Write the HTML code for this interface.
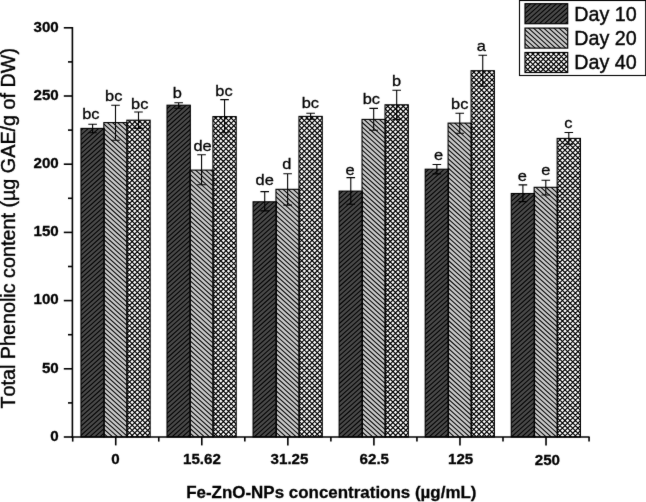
<!DOCTYPE html>
<html><head><meta charset="utf-8"><title>Total Phenolic content</title>
<style>
html,body{margin:0;padding:0;background:#fff;}
body{width:646px;height:502px;overflow:hidden;}
svg{display:block;font-family:"Liberation Sans",sans-serif;fill:#000;}
text{font-kerning:none;}
.b{font-weight:bold;}
</style></head><body>
<svg width="646" height="502" viewBox="0 0 646 502">
<defs>
<filter id="soft" x="0" y="0" width="646" height="502" filterUnits="userSpaceOnUse" color-interpolation-filters="sRGB"><feConvolveMatrix order="3" kernelMatrix="0.015 0.05 0.015 0.05 0.740 0.05 0.015 0.05 0.015" divisor="1" bias="0" edgeMode="duplicate" preserveAlpha="true"/></filter>
<clipPath id="c0"><rect x="80.95" y="128.40" width="23.30" height="308.60"/><rect x="167.01" y="105.20" width="23.30" height="331.80"/><rect x="253.07" y="201.80" width="23.30" height="235.20"/><rect x="339.13" y="191.10" width="23.30" height="245.90"/><rect x="425.19" y="169.20" width="23.30" height="267.80"/><rect x="511.25" y="193.50" width="23.30" height="243.50"/><rect x="525.00" y="3.70" width="42.70" height="20.00"/></clipPath>
<clipPath id="c1"><rect x="103.85" y="122.60" width="23.30" height="314.40"/><rect x="189.91" y="170.10" width="23.30" height="266.90"/><rect x="275.97" y="189.30" width="23.30" height="247.70"/><rect x="362.03" y="119.40" width="23.30" height="317.60"/><rect x="448.09" y="123.10" width="23.30" height="313.90"/><rect x="534.15" y="187.30" width="23.30" height="249.70"/><rect x="525.00" y="28.10" width="42.70" height="20.00"/></clipPath>
<clipPath id="c2"><rect x="126.85" y="120.20" width="23.30" height="316.80"/><rect x="212.91" y="116.60" width="23.30" height="320.40"/><rect x="298.97" y="116.40" width="23.30" height="320.60"/><rect x="385.03" y="104.80" width="23.30" height="332.20"/><rect x="471.09" y="70.70" width="23.30" height="366.30"/><rect x="557.15" y="138.40" width="23.30" height="298.60"/><rect x="525.00" y="52.50" width="42.70" height="20.00"/></clipPath>
</defs>
<g filter="url(#soft)">
<rect x="-5" y="-5" width="656" height="512" fill="#fff"/>
<rect x="519.5" y="0.5" width="126.2" height="75" fill="#fff" stroke="#000" stroke-width="1.1"/>
<g fill="#4a4a4a"><rect x="80.95" y="128.40" width="23.30" height="308.60"/><rect x="167.01" y="105.20" width="23.30" height="331.80"/><rect x="253.07" y="201.80" width="23.30" height="235.20"/><rect x="339.13" y="191.10" width="23.30" height="245.90"/><rect x="425.19" y="169.20" width="23.30" height="267.80"/><rect x="511.25" y="193.50" width="23.30" height="243.50"/><rect x="525.00" y="3.70" width="42.70" height="20.00"/></g>
<path clip-path="url(#c0)" d="M80.4 126.4L78.9 127.7M85.5 126.4L78.9 132.3M90.7 126.4L78.9 136.9M95.8 126.4L78.9 141.6M101.0 126.4L78.9 146.2M106.1 126.4L78.9 150.8M106.2 130.9L78.9 155.4M106.2 135.5L78.9 160.0M106.2 140.1L78.9 164.7M106.2 144.8L78.9 169.3M106.2 149.4L78.9 173.9M106.2 154.0L78.9 178.5M106.2 158.6L78.9 183.1M106.2 163.2L78.9 187.8M106.2 167.9L78.9 192.4M106.2 172.5L78.9 197.0M106.2 177.1L78.9 201.6M106.2 181.7L78.9 206.2M106.2 186.3L78.9 210.9M106.2 191.0L78.9 215.5M106.2 195.6L78.9 220.1M106.2 200.2L78.9 224.7M106.2 204.8L78.9 229.3M106.2 209.4L78.9 234.0M106.2 214.1L78.9 238.6M106.2 218.7L78.9 243.2M106.2 223.3L78.9 247.8M106.2 227.9L78.9 252.4M106.2 232.5L78.9 257.1M106.2 237.2L78.9 261.7M106.2 241.8L78.9 266.3M106.2 246.4L78.9 270.9M106.2 251.0L78.9 275.5M106.2 255.6L78.9 280.2M106.2 260.3L78.9 284.8M106.2 264.9L78.9 289.4M106.2 269.5L78.9 294.0M106.2 274.1L78.9 298.6M106.2 278.7L78.9 303.3M106.2 283.4L78.9 307.9M106.2 288.0L78.9 312.5M106.2 292.6L78.9 317.1M106.2 297.2L78.9 321.7M106.2 301.8L78.9 326.4M106.2 306.5L78.9 331.0M106.2 311.1L78.9 335.6M106.2 315.7L78.9 340.2M106.2 320.3L78.9 344.8M106.2 324.9L78.9 349.5M106.2 329.6L78.9 354.1M106.2 334.2L78.9 358.7M106.2 338.8L78.9 363.3M106.2 343.4L78.9 367.9M106.2 348.0L78.9 372.6M106.2 352.7L78.9 377.2M106.2 357.3L78.9 381.8M106.2 361.9L78.9 386.4M106.2 366.5L78.9 391.0M106.2 371.1L78.9 395.7M106.2 375.8L78.9 400.3M106.2 380.4L78.9 404.9M106.2 385.0L78.9 409.5M106.2 389.6L78.9 414.1M106.2 394.2L78.9 418.8M106.2 398.9L78.9 423.4M106.2 403.5L78.9 428.0M106.2 408.1L78.9 432.6M106.2 412.7L78.9 437.2M106.2 417.3L82.1 439.0M106.2 422.0L87.3 439.0M106.2 426.6L92.4 439.0M106.2 431.2L97.6 439.0M106.2 435.8L102.7 439.0M168.0 103.2L165.0 105.9M173.1 103.2L165.0 110.5M178.3 103.2L165.0 115.1M183.4 103.2L165.0 119.7M188.5 103.2L165.0 124.3M192.3 104.4L165.0 129.0M192.3 109.1L165.0 133.6M192.3 113.7L165.0 138.2M192.3 118.3L165.0 142.8M192.3 122.9L165.0 147.4M192.3 127.5L165.0 152.1M192.3 132.2L165.0 156.7M192.3 136.8L165.0 161.3M192.3 141.4L165.0 165.9M192.3 146.0L165.0 170.5M192.3 150.6L165.0 175.2M192.3 155.3L165.0 179.8M192.3 159.9L165.0 184.4M192.3 164.5L165.0 189.0M192.3 169.1L165.0 193.6M192.3 173.7L165.0 198.3M192.3 178.4L165.0 202.9M192.3 183.0L165.0 207.5M192.3 187.6L165.0 212.1M192.3 192.2L165.0 216.7M192.3 196.8L165.0 221.4M192.3 201.5L165.0 226.0M192.3 206.1L165.0 230.6M192.3 210.7L165.0 235.2M192.3 215.3L165.0 239.8M192.3 219.9L165.0 244.5M192.3 224.6L165.0 249.1M192.3 229.2L165.0 253.7M192.3 233.8L165.0 258.3M192.3 238.4L165.0 262.9M192.3 243.0L165.0 267.6M192.3 247.7L165.0 272.2M192.3 252.3L165.0 276.8M192.3 256.9L165.0 281.4M192.3 261.5L165.0 286.0M192.3 266.1L165.0 290.7M192.3 270.8L165.0 295.3M192.3 275.4L165.0 299.9M192.3 280.0L165.0 304.5M192.3 284.6L165.0 309.1M192.3 289.2L165.0 313.8M192.3 293.9L165.0 318.4M192.3 298.5L165.0 323.0M192.3 303.1L165.0 327.6M192.3 307.7L165.0 332.2M192.3 312.3L165.0 336.9M192.3 317.0L165.0 341.5M192.3 321.6L165.0 346.1M192.3 326.2L165.0 350.7M192.3 330.8L165.0 355.3M192.3 335.4L165.0 360.0M192.3 340.1L165.0 364.6M192.3 344.7L165.0 369.2M192.3 349.3L165.0 373.8M192.3 353.9L165.0 378.4M192.3 358.5L165.0 383.1M192.3 363.2L165.0 387.7M192.3 367.8L165.0 392.3M192.3 372.4L165.0 396.9M192.3 377.0L165.0 401.5M192.3 381.6L165.0 406.2M192.3 386.3L165.0 410.8M192.3 390.9L165.0 415.4M192.3 395.5L165.0 420.0M192.3 400.1L165.0 424.6M192.3 404.7L165.0 429.3M192.3 409.4L165.0 433.9M192.3 414.0L165.0 438.5M192.3 418.6L169.6 439.0M192.3 423.2L174.7 439.0M192.3 427.8L179.9 439.0M192.3 432.5L185.0 439.0M192.3 437.1L190.2 439.0M255.9 199.8L251.1 204.1M261.0 199.8L251.1 208.7M266.2 199.8L251.1 213.4M271.3 199.8L251.1 218.0M276.5 199.8L251.1 222.6M278.4 202.7L251.1 227.2M278.4 207.3L251.1 231.8M278.4 211.9L251.1 236.5M278.4 216.6L251.1 241.1M278.4 221.2L251.1 245.7M278.4 225.8L251.1 250.3M278.4 230.4L251.1 254.9M278.4 235.0L251.1 259.6M278.4 239.7L251.1 264.2M278.4 244.3L251.1 268.8M278.4 248.9L251.1 273.4M278.4 253.5L251.1 278.0M278.4 258.1L251.1 282.7M278.4 262.8L251.1 287.3M278.4 267.4L251.1 291.9M278.4 272.0L251.1 296.5M278.4 276.6L251.1 301.1M278.4 281.2L251.1 305.8M278.4 285.9L251.1 310.4M278.4 290.5L251.1 315.0M278.4 295.1L251.1 319.6M278.4 299.7L251.1 324.2M278.4 304.3L251.1 328.9M278.4 309.0L251.1 333.5M278.4 313.6L251.1 338.1M278.4 318.2L251.1 342.7M278.4 322.8L251.1 347.3M278.4 327.4L251.1 352.0M278.4 332.1L251.1 356.6M278.4 336.7L251.1 361.2M278.4 341.3L251.1 365.8M278.4 345.9L251.1 370.4M278.4 350.5L251.1 375.1M278.4 355.2L251.1 379.7M278.4 359.8L251.1 384.3M278.4 364.4L251.1 388.9M278.4 369.0L251.1 393.5M278.4 373.6L251.1 398.2M278.4 378.3L251.1 402.8M278.4 382.9L251.1 407.4M278.4 387.5L251.1 412.0M278.4 392.1L251.1 416.6M278.4 396.7L251.1 421.3M278.4 401.4L251.1 425.9M278.4 406.0L251.1 430.5M278.4 410.6L251.1 435.1M278.4 415.2L251.9 439.0M278.4 419.8L257.0 439.0M278.4 424.5L262.2 439.0M278.4 429.1L267.3 439.0M278.4 433.7L272.5 439.0M278.4 438.3L277.6 439.0M339.8 189.1L337.1 191.5M345.0 189.1L337.1 196.1M350.1 189.1L337.1 200.7M355.2 189.1L337.1 205.4M360.4 189.1L337.1 210.0M364.4 190.1L337.1 214.6M364.4 194.7L337.1 219.2M364.4 199.3L337.1 223.8M364.4 203.9L337.1 228.5M364.4 208.6L337.1 233.1M364.4 213.2L337.1 237.7M364.4 217.8L337.1 242.3M364.4 222.4L337.1 246.9M364.4 227.0L337.1 251.6M364.4 231.7L337.1 256.2M364.4 236.3L337.1 260.8M364.4 240.9L337.1 265.4M364.4 245.5L337.1 270.0M364.4 250.1L337.1 274.7M364.4 254.8L337.1 279.3M364.4 259.4L337.1 283.9M364.4 264.0L337.1 288.5M364.4 268.6L337.1 293.1M364.4 273.2L337.1 297.8M364.4 277.9L337.1 302.4M364.4 282.5L337.1 307.0M364.4 287.1L337.1 311.6M364.4 291.7L337.1 316.2M364.4 296.3L337.1 320.9M364.4 301.0L337.1 325.5M364.4 305.6L337.1 330.1M364.4 310.2L337.1 334.7M364.4 314.8L337.1 339.3M364.4 319.4L337.1 344.0M364.4 324.1L337.1 348.6M364.4 328.7L337.1 353.2M364.4 333.3L337.1 357.8M364.4 337.9L337.1 362.4M364.4 342.5L337.1 367.1M364.4 347.2L337.1 371.7M364.4 351.8L337.1 376.3M364.4 356.4L337.1 380.9M364.4 361.0L337.1 385.5M364.4 365.6L337.1 390.2M364.4 370.3L337.1 394.8M364.4 374.9L337.1 399.4M364.4 379.5L337.1 404.0M364.4 384.1L337.1 408.6M364.4 388.7L337.1 413.3M364.4 393.4L337.1 417.9M364.4 398.0L337.1 422.5M364.4 402.6L337.1 427.1M364.4 407.2L337.1 431.7M364.4 411.8L337.1 436.4M364.4 416.5L339.3 439.0M364.4 421.1L344.5 439.0M364.4 425.7L349.6 439.0M364.4 430.3L354.8 439.0M364.4 434.9L359.9 439.0M425.9 167.2L423.2 169.7M431.1 167.2L423.2 174.3M436.2 167.2L423.2 178.9M441.4 167.2L423.2 183.5M446.5 167.2L423.2 188.1M450.5 168.2L423.2 192.8M450.5 172.9L423.2 197.4M450.5 177.5L423.2 202.0M450.5 182.1L423.2 206.6M450.5 186.7L423.2 211.2M450.5 191.3L423.2 215.9M450.5 196.0L423.2 220.5M450.5 200.6L423.2 225.1M450.5 205.2L423.2 229.7M450.5 209.8L423.2 234.3M450.5 214.4L423.2 239.0M450.5 219.1L423.2 243.6M450.5 223.7L423.2 248.2M450.5 228.3L423.2 252.8M450.5 232.9L423.2 257.4M450.5 237.5L423.2 262.1M450.5 242.2L423.2 266.7M450.5 246.8L423.2 271.3M450.5 251.4L423.2 275.9M450.5 256.0L423.2 280.5M450.5 260.6L423.2 285.2M450.5 265.3L423.2 289.8M450.5 269.9L423.2 294.4M450.5 274.5L423.2 299.0M450.5 279.1L423.2 303.6M450.5 283.7L423.2 308.3M450.5 288.4L423.2 312.9M450.5 293.0L423.2 317.5M450.5 297.6L423.2 322.1M450.5 302.2L423.2 326.7M450.5 306.8L423.2 331.4M450.5 311.5L423.2 336.0M450.5 316.1L423.2 340.6M450.5 320.7L423.2 345.2M450.5 325.3L423.2 349.8M450.5 329.9L423.2 354.5M450.5 334.6L423.2 359.1M450.5 339.2L423.2 363.7M450.5 343.8L423.2 368.3M450.5 348.4L423.2 372.9M450.5 353.0L423.2 377.6M450.5 357.7L423.2 382.2M450.5 362.3L423.2 386.8M450.5 366.9L423.2 391.4M450.5 371.5L423.2 396.0M450.5 376.1L423.2 400.7M450.5 380.8L423.2 405.3M450.5 385.4L423.2 409.9M450.5 390.0L423.2 414.5M450.5 394.6L423.2 419.1M450.5 399.2L423.2 423.8M450.5 403.9L423.2 428.4M450.5 408.5L423.2 433.0M450.5 413.1L423.2 437.6M450.5 417.7L426.8 439.0M450.5 422.3L431.9 439.0M450.5 427.0L437.1 439.0M450.5 431.6L442.2 439.0M450.5 436.2L447.4 439.0M512.0 191.5L509.2 194.0M517.2 191.5L509.2 198.6M522.3 191.5L509.2 203.2M527.5 191.5L509.2 207.9M532.6 191.5L509.2 212.5M536.5 192.6L509.2 217.1M536.5 197.2L509.2 221.7M536.5 201.8L509.2 226.3M536.5 206.4L509.2 231.0M536.5 211.1L509.2 235.6M536.5 215.7L509.2 240.2M536.5 220.3L509.2 244.8M536.5 224.9L509.2 249.4M536.5 229.5L509.2 254.1M536.5 234.2L509.2 258.7M536.5 238.8L509.2 263.3M536.5 243.4L509.2 267.9M536.5 248.0L509.2 272.5M536.5 252.6L509.2 277.2M536.5 257.3L509.2 281.8M536.5 261.9L509.2 286.4M536.5 266.5L509.2 291.0M536.5 271.1L509.2 295.6M536.5 275.7L509.2 300.3M536.5 280.4L509.2 304.9M536.5 285.0L509.2 309.5M536.5 289.6L509.2 314.1M536.5 294.2L509.2 318.7M536.5 298.8L509.2 323.4M536.5 303.5L509.2 328.0M536.5 308.1L509.2 332.6M536.5 312.7L509.2 337.2M536.5 317.3L509.2 341.8M536.5 321.9L509.2 346.5M536.5 326.6L509.2 351.1M536.5 331.2L509.2 355.7M536.5 335.8L509.2 360.3M536.5 340.4L509.2 364.9M536.5 345.0L509.2 369.6M536.5 349.7L509.2 374.2M536.5 354.3L509.2 378.8M536.5 358.9L509.2 383.4M536.5 363.5L509.2 388.0M536.5 368.1L509.2 392.7M536.5 372.8L509.2 397.3M536.5 377.4L509.2 401.9M536.5 382.0L509.2 406.5M536.5 386.6L509.2 411.1M536.5 391.2L509.2 415.8M536.5 395.9L509.2 420.4M536.5 400.5L509.2 425.0M536.5 405.1L509.2 429.6M536.5 409.7L509.2 434.2M536.5 414.3L509.2 438.9M536.5 419.0L514.2 439.0M536.5 423.6L519.4 439.0M536.5 428.2L524.5 439.0M536.5 432.8L529.7 439.0M536.5 437.4L534.8 439.0M527.9 1.7L523.0 6.1M533.0 1.7L523.0 10.7M538.2 1.7L523.0 15.3M543.3 1.7L523.0 19.9M548.5 1.7L523.0 24.6M553.6 1.7L526.9 25.7M558.8 1.7L532.0 25.7M563.9 1.7L537.2 25.7M569.0 1.7L542.3 25.7M569.7 5.7L547.5 25.7M569.7 10.3L552.6 25.7M569.7 15.0L557.7 25.7M569.7 19.6L562.9 25.7M569.7 24.2L568.0 25.7" stroke="#000" stroke-width="1.05" fill="none"/>
<g fill="#cacaca"><rect x="103.85" y="122.60" width="23.30" height="314.40"/><rect x="189.91" y="170.10" width="23.30" height="266.90"/><rect x="275.97" y="189.30" width="23.30" height="247.70"/><rect x="362.03" y="119.40" width="23.30" height="317.60"/><rect x="448.09" y="123.10" width="23.30" height="313.90"/><rect x="534.15" y="187.30" width="23.30" height="249.70"/><rect x="525.00" y="28.10" width="42.70" height="20.00"/></g>
<path clip-path="url(#c1)" d="M101.8 436.4L104.8 439.0M101.8 431.7L109.9 439.0M101.8 427.1L115.0 439.0M101.8 422.5L120.1 439.0M101.8 417.9L125.2 439.0M101.8 413.3L129.1 438.0M101.8 408.6L129.1 433.4M101.8 404.0L129.1 428.8M101.8 399.4L129.1 424.1M101.8 394.8L129.1 419.5M101.8 390.2L129.1 414.9M101.8 385.5L129.1 410.3M101.8 380.9L129.1 405.7M101.8 376.3L129.1 401.0M101.8 371.7L129.1 396.4M101.8 367.1L129.1 391.8M101.8 362.4L129.1 387.2M101.8 357.8L129.1 382.6M101.8 353.2L129.1 377.9M101.8 348.6L129.1 373.3M101.8 344.0L129.1 368.7M101.8 339.3L129.1 364.1M101.8 334.7L129.1 359.5M101.8 330.1L129.1 354.8M101.8 325.5L129.1 350.2M101.8 320.9L129.1 345.6M101.8 316.2L129.1 341.0M101.8 311.6L129.1 336.4M101.8 307.0L129.1 331.7M101.8 302.4L129.1 327.1M101.8 297.8L129.1 322.5M101.8 293.1L129.1 317.9M101.8 288.5L129.1 313.3M101.8 283.9L129.1 308.6M101.8 279.3L129.1 304.0M101.8 274.7L129.1 299.4M101.8 270.0L129.1 294.8M101.8 265.4L129.1 290.2M101.8 260.8L129.1 285.5M101.8 256.2L129.1 280.9M101.8 251.6L129.1 276.3M101.8 246.9L129.1 271.7M101.8 242.3L129.1 267.1M101.8 237.7L129.1 262.4M101.8 233.1L129.1 257.8M101.8 228.5L129.1 253.2M101.8 223.8L129.1 248.6M101.8 219.2L129.1 244.0M101.8 214.6L129.1 239.3M101.8 210.0L129.1 234.7M101.8 205.4L129.1 230.1M101.8 200.7L129.1 225.5M101.8 196.1L129.1 220.9M101.8 191.5L129.1 216.2M101.8 186.9L129.1 211.6M101.8 182.3L129.1 207.0M101.8 177.6L129.1 202.4M101.8 173.0L129.1 197.8M101.8 168.4L129.1 193.1M101.8 163.8L129.1 188.5M101.8 159.2L129.1 183.9M101.8 154.5L129.1 179.3M101.8 149.9L129.1 174.7M101.8 145.3L129.1 170.0M101.8 140.7L129.1 165.4M101.8 136.1L129.1 160.8M101.8 131.4L129.1 156.2M101.8 126.8L129.1 151.6M101.8 122.2L129.1 146.9M105.2 120.6L129.1 142.3M110.3 120.6L129.1 137.7M115.4 120.6L129.1 133.1M120.5 120.6L129.1 128.5M125.6 120.6L129.1 123.8M187.9 435.8L191.5 439.0M187.9 431.2L196.6 439.0M187.9 426.5L201.7 439.0M187.9 421.9L206.8 439.0M187.9 417.3L211.9 439.0M187.9 412.7L215.2 437.4M187.9 408.1L215.2 432.8M187.9 403.4L215.2 428.2M187.9 398.8L215.2 423.6M187.9 394.2L215.2 418.9M187.9 389.6L215.2 414.3M187.9 385.0L215.2 409.7M187.9 380.3L215.2 405.1M187.9 375.7L215.2 400.5M187.9 371.1L215.2 395.8M187.9 366.5L215.2 391.2M187.9 361.9L215.2 386.6M187.9 357.2L215.2 382.0M187.9 352.6L215.2 377.4M187.9 348.0L215.2 372.7M187.9 343.4L215.2 368.1M187.9 338.8L215.2 363.5M187.9 334.1L215.2 358.9M187.9 329.5L215.2 354.3M187.9 324.9L215.2 349.6M187.9 320.3L215.2 345.0M187.9 315.7L215.2 340.4M187.9 311.0L215.2 335.8M187.9 306.4L215.2 331.2M187.9 301.8L215.2 326.5M187.9 297.2L215.2 321.9M187.9 292.6L215.2 317.3M187.9 287.9L215.2 312.7M187.9 283.3L215.2 308.1M187.9 278.7L215.2 303.4M187.9 274.1L215.2 298.8M187.9 269.5L215.2 294.2M187.9 264.8L215.2 289.6M187.9 260.2L215.2 285.0M187.9 255.6L215.2 280.3M187.9 251.0L215.2 275.7M187.9 246.4L215.2 271.1M187.9 241.7L215.2 266.5M187.9 237.1L215.2 261.9M187.9 232.5L215.2 257.2M187.9 227.9L215.2 252.6M187.9 223.3L215.2 248.0M187.9 218.6L215.2 243.4M187.9 214.0L215.2 238.8M187.9 209.4L215.2 234.1M187.9 204.8L215.2 229.5M187.9 200.2L215.2 224.9M187.9 195.5L215.2 220.3M187.9 190.9L215.2 215.7M187.9 186.3L215.2 211.0M187.9 181.7L215.2 206.4M187.9 177.1L215.2 201.8M187.9 172.4L215.2 197.2M188.2 168.1L215.2 192.6M193.3 168.1L215.2 187.9M198.4 168.1L215.2 183.3M203.5 168.1L215.2 178.7M208.6 168.1L215.2 174.1M213.7 168.1L215.2 169.5M274.0 435.2L278.2 439.0M274.0 430.6L283.3 439.0M274.0 426.0L288.4 439.0M274.0 421.3L293.5 439.0M274.0 416.7L298.6 439.0M274.0 412.1L301.3 436.8M274.0 407.5L301.3 432.2M274.0 402.9L301.3 427.6M274.0 398.2L301.3 423.0M274.0 393.6L301.3 418.4M274.0 389.0L301.3 413.7M274.0 384.4L301.3 409.1M274.0 379.8L301.3 404.5M274.0 375.1L301.3 399.9M274.0 370.5L301.3 395.3M274.0 365.9L301.3 390.6M274.0 361.3L301.3 386.0M274.0 356.7L301.3 381.4M274.0 352.0L301.3 376.8M274.0 347.4L301.3 372.2M274.0 342.8L301.3 367.5M274.0 338.2L301.3 362.9M274.0 333.6L301.3 358.3M274.0 328.9L301.3 353.7M274.0 324.3L301.3 349.1M274.0 319.7L301.3 344.4M274.0 315.1L301.3 339.8M274.0 310.5L301.3 335.2M274.0 305.8L301.3 330.6M274.0 301.2L301.3 326.0M274.0 296.6L301.3 321.3M274.0 292.0L301.3 316.7M274.0 287.4L301.3 312.1M274.0 282.7L301.3 307.5M274.0 278.1L301.3 302.9M274.0 273.5L301.3 298.2M274.0 268.9L301.3 293.6M274.0 264.3L301.3 289.0M274.0 259.6L301.3 284.4M274.0 255.0L301.3 279.8M274.0 250.4L301.3 275.1M274.0 245.8L301.3 270.5M274.0 241.2L301.3 265.9M274.0 236.5L301.3 261.3M274.0 231.9L301.3 256.7M274.0 227.3L301.3 252.0M274.0 222.7L301.3 247.4M274.0 218.1L301.3 242.8M274.0 213.4L301.3 238.2M274.0 208.8L301.3 233.6M274.0 204.2L301.3 228.9M274.0 199.6L301.3 224.3M274.0 195.0L301.3 219.7M274.0 190.3L301.3 215.1M275.7 187.3L301.3 210.5M280.8 187.3L301.3 205.8M285.9 187.3L301.3 201.2M291.0 187.3L301.3 196.6M296.1 187.3L301.3 192.0M301.2 187.3L301.3 187.4M360.0 434.6L364.9 439.0M360.0 430.0L370.0 439.0M360.0 425.4L375.1 439.0M360.0 420.8L380.2 439.0M360.0 416.1L385.3 439.0M360.0 411.5L387.3 436.3M360.0 406.9L387.3 431.6M360.0 402.3L387.3 427.0M360.0 397.7L387.3 422.4M360.0 393.0L387.3 417.8M360.0 388.4L387.3 413.2M360.0 383.8L387.3 408.5M360.0 379.2L387.3 403.9M360.0 374.6L387.3 399.3M360.0 369.9L387.3 394.7M360.0 365.3L387.3 390.1M360.0 360.7L387.3 385.4M360.0 356.1L387.3 380.8M360.0 351.5L387.3 376.2M360.0 346.8L387.3 371.6M360.0 342.2L387.3 367.0M360.0 337.6L387.3 362.3M360.0 333.0L387.3 357.7M360.0 328.4L387.3 353.1M360.0 323.7L387.3 348.5M360.0 319.1L387.3 343.9M360.0 314.5L387.3 339.2M360.0 309.9L387.3 334.6M360.0 305.3L387.3 330.0M360.0 300.6L387.3 325.4M360.0 296.0L387.3 320.8M360.0 291.4L387.3 316.1M360.0 286.8L387.3 311.5M360.0 282.2L387.3 306.9M360.0 277.5L387.3 302.3M360.0 272.9L387.3 297.7M360.0 268.3L387.3 293.0M360.0 263.7L387.3 288.4M360.0 259.1L387.3 283.8M360.0 254.4L387.3 279.2M360.0 249.8L387.3 274.6M360.0 245.2L387.3 269.9M360.0 240.6L387.3 265.3M360.0 236.0L387.3 260.7M360.0 231.3L387.3 256.1M360.0 226.7L387.3 251.5M360.0 222.1L387.3 246.8M360.0 217.5L387.3 242.2M360.0 212.9L387.3 237.6M360.0 208.2L387.3 233.0M360.0 203.6L387.3 228.4M360.0 199.0L387.3 223.7M360.0 194.4L387.3 219.1M360.0 189.8L387.3 214.5M360.0 185.1L387.3 209.9M360.0 180.5L387.3 205.3M360.0 175.9L387.3 200.6M360.0 171.3L387.3 196.0M360.0 166.7L387.3 191.4M360.0 162.0L387.3 186.8M360.0 157.4L387.3 182.2M360.0 152.8L387.3 177.5M360.0 148.2L387.3 172.9M360.0 143.6L387.3 168.3M360.0 138.9L387.3 163.7M360.0 134.3L387.3 159.1M360.0 129.7L387.3 154.4M360.0 125.1L387.3 149.8M360.0 120.5L387.3 145.2M361.7 117.4L387.3 140.6M366.8 117.4L387.3 136.0M371.9 117.4L387.3 131.3M377.0 117.4L387.3 126.7M382.1 117.4L387.3 122.1M387.2 117.4L387.3 117.5M446.1 438.7L446.5 439.0M446.1 434.0L451.6 439.0M446.1 429.4L456.7 439.0M446.1 424.8L461.8 439.0M446.1 420.2L466.9 439.0M446.1 415.6L472.0 439.0M446.1 410.9L473.4 435.7M446.1 406.3L473.4 431.1M446.1 401.7L473.4 426.4M446.1 397.1L473.4 421.8M446.1 392.5L473.4 417.2M446.1 387.8L473.4 412.6M446.1 383.2L473.4 408.0M446.1 378.6L473.4 403.3M446.1 374.0L473.4 398.7M446.1 369.4L473.4 394.1M446.1 364.7L473.4 389.5M446.1 360.1L473.4 384.9M446.1 355.5L473.4 380.2M446.1 350.9L473.4 375.6M446.1 346.3L473.4 371.0M446.1 341.6L473.4 366.4M446.1 337.0L473.4 361.8M446.1 332.4L473.4 357.1M446.1 327.8L473.4 352.5M446.1 323.2L473.4 347.9M446.1 318.5L473.4 343.3M446.1 313.9L473.4 338.7M446.1 309.3L473.4 334.0M446.1 304.7L473.4 329.4M446.1 300.1L473.4 324.8M446.1 295.4L473.4 320.2M446.1 290.8L473.4 315.6M446.1 286.2L473.4 310.9M446.1 281.6L473.4 306.3M446.1 277.0L473.4 301.7M446.1 272.3L473.4 297.1M446.1 267.7L473.4 292.5M446.1 263.1L473.4 287.8M446.1 258.5L473.4 283.2M446.1 253.9L473.4 278.6M446.1 249.2L473.4 274.0M446.1 244.6L473.4 269.4M446.1 240.0L473.4 264.7M446.1 235.4L473.4 260.1M446.1 230.8L473.4 255.5M446.1 226.1L473.4 250.9M446.1 221.5L473.4 246.3M446.1 216.9L473.4 241.6M446.1 212.3L473.4 237.0M446.1 207.7L473.4 232.4M446.1 203.0L473.4 227.8M446.1 198.4L473.4 223.2M446.1 193.8L473.4 218.5M446.1 189.2L473.4 213.9M446.1 184.6L473.4 209.3M446.1 179.9L473.4 204.7M446.1 175.3L473.4 200.1M446.1 170.7L473.4 195.4M446.1 166.1L473.4 190.8M446.1 161.5L473.4 186.2M446.1 156.8L473.4 181.6M446.1 152.2L473.4 177.0M446.1 147.6L473.4 172.3M446.1 143.0L473.4 167.7M446.1 138.4L473.4 163.1M446.1 133.7L473.4 158.5M446.1 129.1L473.4 153.9M446.1 124.5L473.4 149.2M447.4 121.1L473.4 144.6M452.5 121.1L473.4 140.0M457.6 121.1L473.4 135.4M462.7 121.1L473.4 130.8M467.8 121.1L473.4 126.1M472.9 121.1L473.4 121.5M532.1 438.1L533.2 439.0M532.1 433.5L538.3 439.0M532.1 428.8L543.4 439.0M532.1 424.2L548.5 439.0M532.1 419.6L553.6 439.0M532.1 415.0L558.7 439.0M532.1 410.4L559.4 435.1M532.1 405.7L559.4 430.5M532.1 401.1L559.4 425.9M532.1 396.5L559.4 421.2M532.1 391.9L559.4 416.6M532.1 387.3L559.4 412.0M532.1 382.6L559.4 407.4M532.1 378.0L559.4 402.8M532.1 373.4L559.4 398.1M532.1 368.8L559.4 393.5M532.1 364.2L559.4 388.9M532.1 359.5L559.4 384.3M532.1 354.9L559.4 379.7M532.1 350.3L559.4 375.0M532.1 345.7L559.4 370.4M532.1 341.1L559.4 365.8M532.1 336.4L559.4 361.2M532.1 331.8L559.4 356.6M532.1 327.2L559.4 351.9M532.1 322.6L559.4 347.3M532.1 318.0L559.4 342.7M532.1 313.3L559.4 338.1M532.1 308.7L559.4 333.5M532.1 304.1L559.4 328.8M532.1 299.5L559.4 324.2M532.1 294.9L559.4 319.6M532.1 290.2L559.4 315.0M532.1 285.6L559.4 310.4M532.1 281.0L559.4 305.7M532.1 276.4L559.4 301.1M532.1 271.8L559.4 296.5M532.1 267.1L559.4 291.9M532.1 262.5L559.4 287.3M532.1 257.9L559.4 282.6M532.1 253.3L559.4 278.0M532.1 248.7L559.4 273.4M532.1 244.0L559.4 268.8M532.1 239.4L559.4 264.2M532.1 234.8L559.4 259.5M532.1 230.2L559.4 254.9M532.1 225.6L559.4 250.3M532.1 220.9L559.4 245.7M532.1 216.3L559.4 241.1M532.1 211.7L559.4 236.4M532.1 207.1L559.4 231.8M532.1 202.5L559.4 227.2M532.1 197.8L559.4 222.6M532.1 193.2L559.4 218.0M532.1 188.6L559.4 213.3M533.6 185.3L559.4 208.7M538.7 185.3L559.4 204.1M543.8 185.3L559.4 199.5M548.9 185.3L559.4 194.9M554.0 185.3L559.4 190.2M559.1 185.3L559.4 185.6M523.0 46.3L527.2 50.1M523.0 41.7L532.3 50.1M523.0 37.1L537.4 50.1M523.0 32.5L542.5 50.1M523.0 27.9L547.6 50.1M526.2 26.1L552.7 50.1M531.3 26.1L557.8 50.1M536.4 26.1L562.9 50.1M541.5 26.1L568.0 50.1M546.6 26.1L569.7 47.1M551.7 26.1L569.7 42.4M556.8 26.1L569.7 37.8M561.9 26.1L569.7 33.2M567.0 26.1L569.7 28.6" stroke="#000" stroke-width="1.05" fill="none"/>
<g fill="#ffffff"><rect x="126.85" y="120.20" width="23.30" height="316.80"/><rect x="212.91" y="116.60" width="23.30" height="320.40"/><rect x="298.97" y="116.40" width="23.30" height="320.60"/><rect x="385.03" y="104.80" width="23.30" height="332.20"/><rect x="471.09" y="70.70" width="23.30" height="366.30"/><rect x="557.15" y="138.40" width="23.30" height="298.60"/><rect x="525.00" y="52.50" width="42.70" height="20.00"/></g>
<path clip-path="url(#c2)" d="M128.0 118.2L124.8 121.3M133.2 118.2L124.8 126.4M138.4 118.2L124.8 131.5M143.5 118.2L124.8 136.6M148.7 118.2L124.8 141.7M152.2 119.9L124.8 146.8M152.2 125.0L124.8 151.9M152.2 130.1L124.8 157.0M152.2 135.2L124.8 162.1M152.2 140.3L124.8 167.2M152.2 145.4L124.8 172.3M152.2 150.5L124.8 177.4M152.2 155.6L124.8 182.5M152.2 160.7L124.8 187.6M152.2 165.8L124.8 192.7M152.2 170.9L124.8 197.8M152.2 176.0L124.8 202.9M152.2 181.1L124.8 208.0M152.2 186.2L124.8 213.1M152.2 191.3L124.8 218.2M152.2 196.4L124.8 223.3M152.2 201.5L124.8 228.4M152.2 206.6L124.8 233.5M152.2 211.7L124.8 238.6M152.2 216.8L124.8 243.7M152.2 221.9L124.8 248.8M152.2 227.0L124.8 253.9M152.2 232.1L124.8 259.0M152.2 237.2L124.8 264.1M152.2 242.3L124.8 269.2M152.2 247.4L124.8 274.3M152.2 252.5L124.8 279.4M152.2 257.6L124.8 284.5M152.2 262.7L124.8 289.6M152.2 267.8L124.8 294.7M152.2 272.9L124.8 299.8M152.2 278.0L124.8 304.9M152.2 283.1L124.8 310.0M152.2 288.2L124.8 315.1M152.2 293.3L124.8 320.2M152.2 298.4L124.8 325.3M152.2 303.5L124.8 330.4M152.2 308.6L124.8 335.5M152.2 313.7L124.8 340.6M152.2 318.8L124.8 345.7M152.2 323.9L124.8 350.8M152.2 329.0L124.8 355.9M152.2 334.1L124.8 361.0M152.2 339.2L124.8 366.1M152.2 344.3L124.8 371.2M152.2 349.4L124.8 376.3M152.2 354.5L124.8 381.4M152.2 359.6L124.8 386.5M152.2 364.7L124.8 391.6M152.2 369.8L124.8 396.7M152.2 374.9L124.8 401.8M152.2 380.0L124.8 406.9M152.2 385.1L124.8 412.0M152.2 390.2L124.8 417.1M152.2 395.3L124.8 422.2M152.2 400.4L124.8 427.3M152.2 405.5L124.8 432.4M152.2 410.6L124.8 437.5M152.2 415.7L128.5 439.0M152.2 420.8L133.7 439.0M152.2 425.9L138.9 439.0M152.2 431.0L144.0 439.0M152.2 436.1L149.2 439.0M124.8 438.4L125.5 439.0M124.8 433.3L130.7 439.0M124.8 428.2L135.8 439.0M124.8 423.1L141.0 439.0M124.8 418.0L146.2 439.0M124.8 412.9L151.3 439.0M124.8 407.8L152.2 434.7M124.8 402.7L152.2 429.6M124.8 397.6L152.2 424.5M124.8 392.5L152.2 419.4M124.8 387.4L152.2 414.3M124.8 382.3L152.2 409.2M124.8 377.2L152.2 404.1M124.8 372.1L152.2 399.0M124.8 367.0L152.2 393.9M124.8 361.9L152.2 388.8M124.8 356.8L152.2 383.7M124.8 351.7L152.2 378.6M124.8 346.6L152.2 373.5M124.8 341.5L152.2 368.4M124.8 336.4L152.2 363.3M124.8 331.3L152.2 358.2M124.8 326.2L152.2 353.1M124.8 321.1L152.2 348.0M124.8 316.0L152.2 342.9M124.8 310.9L152.2 337.8M124.8 305.8L152.2 332.7M124.8 300.7L152.2 327.6M124.8 295.6L152.2 322.5M124.8 290.5L152.2 317.4M124.8 285.4L152.2 312.3M124.8 280.3L152.2 307.2M124.8 275.2L152.2 302.1M124.8 270.1L152.2 297.0M124.8 265.0L152.2 291.9M124.8 259.9L152.2 286.8M124.8 254.8L152.2 281.7M124.8 249.7L152.2 276.6M124.8 244.6L152.2 271.5M124.8 239.5L152.2 266.4M124.8 234.4L152.2 261.3M124.8 229.3L152.2 256.2M124.8 224.2L152.2 251.1M124.8 219.1L152.2 246.0M124.8 214.0L152.2 240.9M124.8 208.9L152.2 235.8M124.8 203.8L152.2 230.7M124.8 198.7L152.2 225.6M124.8 193.6L152.2 220.5M124.8 188.5L152.2 215.4M124.8 183.4L152.2 210.3M124.8 178.3L152.2 205.2M124.8 173.2L152.2 200.1M124.8 168.1L152.2 195.0M124.8 163.0L152.2 189.9M124.8 157.9L152.2 184.8M124.8 152.8L152.2 179.7M124.8 147.7L152.2 174.6M124.8 142.6L152.2 169.5M124.8 137.5L152.2 164.4M124.8 132.4L152.2 159.3M124.8 127.3L152.2 154.2M124.8 122.2L152.2 149.1M126.0 118.2L152.2 144.0M131.2 118.2L152.2 138.9M136.3 118.2L152.2 133.8M141.5 118.2L152.2 128.7M146.7 118.2L152.2 123.6M151.8 118.2L152.2 118.5M214.1 114.6L210.9 117.7M219.3 114.6L210.9 122.8M224.4 114.6L210.9 127.9M229.6 114.6L210.9 133.0M234.7 114.6L210.9 138.1M238.2 116.3L210.9 143.2M238.2 121.4L210.9 148.3M238.2 126.5L210.9 153.4M238.2 131.6L210.9 158.5M238.2 136.7L210.9 163.6M238.2 141.8L210.9 168.7M238.2 146.9L210.9 173.8M238.2 152.0L210.9 178.9M238.2 157.1L210.9 184.0M238.2 162.2L210.9 189.1M238.2 167.3L210.9 194.2M238.2 172.4L210.9 199.3M238.2 177.5L210.9 204.4M238.2 182.6L210.9 209.5M238.2 187.7L210.9 214.6M238.2 192.8L210.9 219.7M238.2 197.9L210.9 224.8M238.2 203.0L210.9 229.9M238.2 208.1L210.9 235.0M238.2 213.2L210.9 240.1M238.2 218.3L210.9 245.2M238.2 223.4L210.9 250.3M238.2 228.5L210.9 255.4M238.2 233.6L210.9 260.5M238.2 238.7L210.9 265.6M238.2 243.8L210.9 270.7M238.2 248.9L210.9 275.8M238.2 254.0L210.9 280.9M238.2 259.1L210.9 286.0M238.2 264.2L210.9 291.1M238.2 269.3L210.9 296.2M238.2 274.4L210.9 301.3M238.2 279.5L210.9 306.4M238.2 284.6L210.9 311.5M238.2 289.7L210.9 316.6M238.2 294.8L210.9 321.7M238.2 299.9L210.9 326.8M238.2 305.0L210.9 331.9M238.2 310.1L210.9 337.0M238.2 315.2L210.9 342.1M238.2 320.3L210.9 347.2M238.2 325.4L210.9 352.3M238.2 330.5L210.9 357.4M238.2 335.6L210.9 362.5M238.2 340.7L210.9 367.6M238.2 345.8L210.9 372.7M238.2 350.9L210.9 377.8M238.2 356.0L210.9 382.9M238.2 361.1L210.9 388.0M238.2 366.2L210.9 393.1M238.2 371.3L210.9 398.2M238.2 376.4L210.9 403.3M238.2 381.5L210.9 408.4M238.2 386.6L210.9 413.5M238.2 391.7L210.9 418.6M238.2 396.8L210.9 423.7M238.2 401.9L210.9 428.8M238.2 407.0L210.9 433.9M238.2 412.1L210.9 439.0M238.2 417.2L216.1 439.0M238.2 422.3L221.3 439.0M238.2 427.4L226.4 439.0M238.2 432.5L231.6 439.0M238.2 437.6L236.8 439.0M210.9 434.8L215.2 439.0M210.9 429.7L220.4 439.0M210.9 424.6L225.5 439.0M210.9 419.5L230.7 439.0M210.9 414.4L235.9 439.0M210.9 409.3L238.2 436.2M210.9 404.2L238.2 431.1M210.9 399.1L238.2 426.0M210.9 394.0L238.2 420.9M210.9 388.9L238.2 415.8M210.9 383.8L238.2 410.7M210.9 378.7L238.2 405.6M210.9 373.6L238.2 400.5M210.9 368.5L238.2 395.4M210.9 363.4L238.2 390.3M210.9 358.3L238.2 385.2M210.9 353.2L238.2 380.1M210.9 348.1L238.2 375.0M210.9 343.0L238.2 369.9M210.9 337.9L238.2 364.8M210.9 332.8L238.2 359.7M210.9 327.7L238.2 354.6M210.9 322.6L238.2 349.5M210.9 317.5L238.2 344.4M210.9 312.4L238.2 339.3M210.9 307.3L238.2 334.2M210.9 302.2L238.2 329.1M210.9 297.1L238.2 324.0M210.9 292.0L238.2 318.9M210.9 286.9L238.2 313.8M210.9 281.8L238.2 308.7M210.9 276.7L238.2 303.6M210.9 271.6L238.2 298.5M210.9 266.5L238.2 293.4M210.9 261.4L238.2 288.3M210.9 256.3L238.2 283.2M210.9 251.2L238.2 278.1M210.9 246.1L238.2 273.0M210.9 241.0L238.2 267.9M210.9 235.9L238.2 262.8M210.9 230.8L238.2 257.7M210.9 225.7L238.2 252.6M210.9 220.6L238.2 247.5M210.9 215.5L238.2 242.4M210.9 210.4L238.2 237.3M210.9 205.3L238.2 232.2M210.9 200.2L238.2 227.1M210.9 195.1L238.2 222.0M210.9 190.0L238.2 216.9M210.9 184.9L238.2 211.8M210.9 179.8L238.2 206.7M210.9 174.7L238.2 201.6M210.9 169.6L238.2 196.5M210.9 164.5L238.2 191.4M210.9 159.4L238.2 186.3M210.9 154.3L238.2 181.2M210.9 149.2L238.2 176.1M210.9 144.1L238.2 171.0M210.9 139.0L238.2 165.9M210.9 133.9L238.2 160.8M210.9 128.8L238.2 155.7M210.9 123.7L238.2 150.6M210.9 118.6L238.2 145.5M212.1 114.6L238.2 140.4M217.2 114.6L238.2 135.3M222.4 114.6L238.2 130.2M227.6 114.6L238.2 125.1M232.7 114.6L238.2 120.0M237.9 114.6L238.2 114.9M300.1 114.4L297.0 117.5M305.3 114.4L297.0 122.6M310.5 114.4L297.0 127.7M315.6 114.4L297.0 132.8M320.8 114.4L297.0 137.9M324.3 116.1L297.0 143.0M324.3 121.2L297.0 148.1M324.3 126.3L297.0 153.2M324.3 131.4L297.0 158.3M324.3 136.5L297.0 163.4M324.3 141.6L297.0 168.5M324.3 146.7L297.0 173.6M324.3 151.8L297.0 178.7M324.3 156.9L297.0 183.8M324.3 162.0L297.0 188.9M324.3 167.1L297.0 194.0M324.3 172.2L297.0 199.1M324.3 177.3L297.0 204.2M324.3 182.4L297.0 209.3M324.3 187.5L297.0 214.4M324.3 192.6L297.0 219.5M324.3 197.7L297.0 224.6M324.3 202.8L297.0 229.7M324.3 207.9L297.0 234.8M324.3 213.0L297.0 239.9M324.3 218.1L297.0 245.0M324.3 223.2L297.0 250.1M324.3 228.3L297.0 255.2M324.3 233.4L297.0 260.3M324.3 238.5L297.0 265.4M324.3 243.6L297.0 270.5M324.3 248.7L297.0 275.6M324.3 253.8L297.0 280.7M324.3 258.9L297.0 285.8M324.3 264.0L297.0 290.9M324.3 269.1L297.0 296.0M324.3 274.2L297.0 301.1M324.3 279.3L297.0 306.2M324.3 284.4L297.0 311.3M324.3 289.5L297.0 316.4M324.3 294.6L297.0 321.5M324.3 299.7L297.0 326.6M324.3 304.8L297.0 331.7M324.3 309.9L297.0 336.8M324.3 315.0L297.0 341.9M324.3 320.1L297.0 347.0M324.3 325.2L297.0 352.1M324.3 330.3L297.0 357.2M324.3 335.4L297.0 362.3M324.3 340.5L297.0 367.4M324.3 345.6L297.0 372.5M324.3 350.7L297.0 377.6M324.3 355.8L297.0 382.7M324.3 360.9L297.0 387.8M324.3 366.0L297.0 392.9M324.3 371.1L297.0 398.0M324.3 376.2L297.0 403.1M324.3 381.3L297.0 408.2M324.3 386.4L297.0 413.3M324.3 391.5L297.0 418.4M324.3 396.6L297.0 423.5M324.3 401.7L297.0 428.6M324.3 406.8L297.0 433.7M324.3 411.9L297.0 438.8M324.3 417.0L302.0 439.0M324.3 422.1L307.1 439.0M324.3 427.2L312.3 439.0M324.3 432.3L317.5 439.0M324.3 437.4L322.6 439.0M297.0 434.6L301.5 439.0M297.0 429.5L306.6 439.0M297.0 424.4L311.8 439.0M297.0 419.3L317.0 439.0M297.0 414.2L322.1 439.0M297.0 409.1L324.3 436.0M297.0 404.0L324.3 430.9M297.0 398.9L324.3 425.8M297.0 393.8L324.3 420.7M297.0 388.7L324.3 415.6M297.0 383.6L324.3 410.5M297.0 378.5L324.3 405.4M297.0 373.4L324.3 400.3M297.0 368.3L324.3 395.2M297.0 363.2L324.3 390.1M297.0 358.1L324.3 385.0M297.0 353.0L324.3 379.9M297.0 347.9L324.3 374.8M297.0 342.8L324.3 369.7M297.0 337.7L324.3 364.6M297.0 332.6L324.3 359.5M297.0 327.5L324.3 354.4M297.0 322.4L324.3 349.3M297.0 317.3L324.3 344.2M297.0 312.2L324.3 339.1M297.0 307.1L324.3 334.0M297.0 302.0L324.3 328.9M297.0 296.9L324.3 323.8M297.0 291.8L324.3 318.7M297.0 286.7L324.3 313.6M297.0 281.6L324.3 308.5M297.0 276.5L324.3 303.4M297.0 271.4L324.3 298.3M297.0 266.3L324.3 293.2M297.0 261.2L324.3 288.1M297.0 256.1L324.3 283.0M297.0 251.0L324.3 277.9M297.0 245.9L324.3 272.8M297.0 240.8L324.3 267.7M297.0 235.7L324.3 262.6M297.0 230.6L324.3 257.5M297.0 225.5L324.3 252.4M297.0 220.4L324.3 247.3M297.0 215.3L324.3 242.2M297.0 210.2L324.3 237.1M297.0 205.1L324.3 232.0M297.0 200.0L324.3 226.9M297.0 194.9L324.3 221.8M297.0 189.8L324.3 216.7M297.0 184.7L324.3 211.6M297.0 179.6L324.3 206.5M297.0 174.5L324.3 201.4M297.0 169.4L324.3 196.3M297.0 164.3L324.3 191.2M297.0 159.2L324.3 186.1M297.0 154.1L324.3 181.0M297.0 149.0L324.3 175.9M297.0 143.9L324.3 170.8M297.0 138.8L324.3 165.7M297.0 133.7L324.3 160.6M297.0 128.6L324.3 155.5M297.0 123.5L324.3 150.4M297.0 118.4L324.3 145.3M298.1 114.4L324.3 140.2M303.3 114.4L324.3 135.1M308.5 114.4L324.3 130.0M313.6 114.4L324.3 124.9M318.8 114.4L324.3 119.8M324.0 114.4L324.3 114.7M386.2 102.8L383.0 105.9M391.4 102.8L383.0 111.0M396.5 102.8L383.0 116.1M401.7 102.8L383.0 121.2M406.9 102.8L383.0 126.3M410.3 104.5L383.0 131.4M410.3 109.6L383.0 136.5M410.3 114.7L383.0 141.6M410.3 119.8L383.0 146.7M410.3 124.9L383.0 151.8M410.3 130.0L383.0 156.9M410.3 135.1L383.0 162.0M410.3 140.2L383.0 167.1M410.3 145.3L383.0 172.2M410.3 150.4L383.0 177.3M410.3 155.5L383.0 182.4M410.3 160.6L383.0 187.5M410.3 165.7L383.0 192.6M410.3 170.8L383.0 197.7M410.3 175.9L383.0 202.8M410.3 181.0L383.0 207.9M410.3 186.1L383.0 213.0M410.3 191.2L383.0 218.1M410.3 196.3L383.0 223.2M410.3 201.4L383.0 228.3M410.3 206.5L383.0 233.4M410.3 211.6L383.0 238.5M410.3 216.7L383.0 243.6M410.3 221.8L383.0 248.7M410.3 226.9L383.0 253.8M410.3 232.0L383.0 258.9M410.3 237.1L383.0 264.0M410.3 242.2L383.0 269.1M410.3 247.3L383.0 274.2M410.3 252.4L383.0 279.3M410.3 257.5L383.0 284.4M410.3 262.6L383.0 289.5M410.3 267.7L383.0 294.6M410.3 272.8L383.0 299.7M410.3 277.9L383.0 304.8M410.3 283.0L383.0 309.9M410.3 288.1L383.0 315.0M410.3 293.2L383.0 320.1M410.3 298.3L383.0 325.2M410.3 303.4L383.0 330.3M410.3 308.5L383.0 335.4M410.3 313.6L383.0 340.5M410.3 318.7L383.0 345.6M410.3 323.8L383.0 350.7M410.3 328.9L383.0 355.8M410.3 334.0L383.0 360.9M410.3 339.1L383.0 366.0M410.3 344.2L383.0 371.1M410.3 349.3L383.0 376.2M410.3 354.4L383.0 381.3M410.3 359.5L383.0 386.4M410.3 364.6L383.0 391.5M410.3 369.7L383.0 396.6M410.3 374.8L383.0 401.7M410.3 379.9L383.0 406.8M410.3 385.0L383.0 411.9M410.3 390.1L383.0 417.0M410.3 395.2L383.0 422.1M410.3 400.3L383.0 427.2M410.3 405.4L383.0 432.3M410.3 410.5L383.0 437.4M410.3 415.6L386.6 439.0M410.3 420.7L391.8 439.0M410.3 425.8L396.9 439.0M410.3 430.9L402.1 439.0M410.3 436.0L407.3 439.0M383.0 438.3L383.8 439.0M383.0 433.2L389.0 439.0M383.0 428.1L394.1 439.0M383.0 423.0L399.3 439.0M383.0 417.9L404.4 439.0M383.0 412.8L409.6 439.0M383.0 407.7L410.3 434.6M383.0 402.6L410.3 429.5M383.0 397.5L410.3 424.4M383.0 392.4L410.3 419.3M383.0 387.3L410.3 414.2M383.0 382.2L410.3 409.1M383.0 377.1L410.3 404.0M383.0 372.0L410.3 398.9M383.0 366.9L410.3 393.8M383.0 361.8L410.3 388.7M383.0 356.7L410.3 383.6M383.0 351.6L410.3 378.5M383.0 346.5L410.3 373.4M383.0 341.4L410.3 368.3M383.0 336.3L410.3 363.2M383.0 331.2L410.3 358.1M383.0 326.1L410.3 353.0M383.0 321.0L410.3 347.9M383.0 315.9L410.3 342.8M383.0 310.8L410.3 337.7M383.0 305.7L410.3 332.6M383.0 300.6L410.3 327.5M383.0 295.5L410.3 322.4M383.0 290.4L410.3 317.3M383.0 285.3L410.3 312.2M383.0 280.2L410.3 307.1M383.0 275.1L410.3 302.0M383.0 270.0L410.3 296.9M383.0 264.9L410.3 291.8M383.0 259.8L410.3 286.7M383.0 254.7L410.3 281.6M383.0 249.6L410.3 276.5M383.0 244.5L410.3 271.4M383.0 239.4L410.3 266.3M383.0 234.3L410.3 261.2M383.0 229.2L410.3 256.1M383.0 224.1L410.3 251.0M383.0 219.0L410.3 245.9M383.0 213.9L410.3 240.8M383.0 208.8L410.3 235.7M383.0 203.7L410.3 230.6M383.0 198.6L410.3 225.5M383.0 193.5L410.3 220.4M383.0 188.4L410.3 215.3M383.0 183.3L410.3 210.2M383.0 178.2L410.3 205.1M383.0 173.1L410.3 200.0M383.0 168.0L410.3 194.9M383.0 162.9L410.3 189.8M383.0 157.8L410.3 184.7M383.0 152.7L410.3 179.6M383.0 147.6L410.3 174.5M383.0 142.5L410.3 169.4M383.0 137.4L410.3 164.3M383.0 132.3L410.3 159.2M383.0 127.2L410.3 154.1M383.0 122.1L410.3 149.0M383.0 117.0L410.3 143.9M383.0 111.9L410.3 138.8M383.0 106.8L410.3 133.7M384.2 102.8L410.3 128.6M389.4 102.8L410.3 123.5M394.5 102.8L410.3 118.4M399.7 102.8L410.3 113.3M404.8 102.8L410.3 108.2M410.0 102.8L410.3 103.1M472.3 68.7L469.1 71.8M477.4 68.7L469.1 76.9M482.6 68.7L469.1 82.0M487.8 68.7L469.1 87.1M492.9 68.7L469.1 92.2M496.4 70.4L469.1 97.3M496.4 75.5L469.1 102.4M496.4 80.6L469.1 107.5M496.4 85.7L469.1 112.6M496.4 90.8L469.1 117.7M496.4 95.9L469.1 122.8M496.4 101.0L469.1 127.9M496.4 106.1L469.1 133.0M496.4 111.2L469.1 138.1M496.4 116.3L469.1 143.2M496.4 121.4L469.1 148.3M496.4 126.5L469.1 153.4M496.4 131.6L469.1 158.5M496.4 136.7L469.1 163.6M496.4 141.8L469.1 168.7M496.4 146.9L469.1 173.8M496.4 152.0L469.1 178.9M496.4 157.1L469.1 184.0M496.4 162.2L469.1 189.1M496.4 167.3L469.1 194.2M496.4 172.4L469.1 199.3M496.4 177.5L469.1 204.4M496.4 182.6L469.1 209.5M496.4 187.7L469.1 214.6M496.4 192.8L469.1 219.7M496.4 197.9L469.1 224.8M496.4 203.0L469.1 229.9M496.4 208.1L469.1 235.0M496.4 213.2L469.1 240.1M496.4 218.3L469.1 245.2M496.4 223.4L469.1 250.3M496.4 228.5L469.1 255.4M496.4 233.6L469.1 260.5M496.4 238.7L469.1 265.6M496.4 243.8L469.1 270.7M496.4 248.9L469.1 275.8M496.4 254.0L469.1 280.9M496.4 259.1L469.1 286.0M496.4 264.2L469.1 291.1M496.4 269.3L469.1 296.2M496.4 274.4L469.1 301.3M496.4 279.5L469.1 306.4M496.4 284.6L469.1 311.5M496.4 289.7L469.1 316.6M496.4 294.8L469.1 321.7M496.4 299.9L469.1 326.8M496.4 305.0L469.1 331.9M496.4 310.1L469.1 337.0M496.4 315.2L469.1 342.1M496.4 320.3L469.1 347.2M496.4 325.4L469.1 352.3M496.4 330.5L469.1 357.4M496.4 335.6L469.1 362.5M496.4 340.7L469.1 367.6M496.4 345.8L469.1 372.7M496.4 350.9L469.1 377.8M496.4 356.0L469.1 382.9M496.4 361.1L469.1 388.0M496.4 366.2L469.1 393.1M496.4 371.3L469.1 398.2M496.4 376.4L469.1 403.3M496.4 381.5L469.1 408.4M496.4 386.6L469.1 413.5M496.4 391.7L469.1 418.6M496.4 396.8L469.1 423.7M496.4 401.9L469.1 428.8M496.4 407.0L469.1 433.9M496.4 412.1L469.1 439.0M496.4 417.2L474.3 439.0M496.4 422.3L479.5 439.0M496.4 427.4L484.6 439.0M496.4 432.5L489.8 439.0M496.4 437.6L494.9 439.0M469.1 434.8L473.4 439.0M469.1 429.7L478.6 439.0M469.1 424.6L483.7 439.0M469.1 419.5L488.9 439.0M469.1 414.4L494.0 439.0M469.1 409.3L496.4 436.2M469.1 404.2L496.4 431.1M469.1 399.1L496.4 426.0M469.1 394.0L496.4 420.9M469.1 388.9L496.4 415.8M469.1 383.8L496.4 410.7M469.1 378.7L496.4 405.6M469.1 373.6L496.4 400.5M469.1 368.5L496.4 395.4M469.1 363.4L496.4 390.3M469.1 358.3L496.4 385.2M469.1 353.2L496.4 380.1M469.1 348.1L496.4 375.0M469.1 343.0L496.4 369.9M469.1 337.9L496.4 364.8M469.1 332.8L496.4 359.7M469.1 327.7L496.4 354.6M469.1 322.6L496.4 349.5M469.1 317.5L496.4 344.4M469.1 312.4L496.4 339.3M469.1 307.3L496.4 334.2M469.1 302.2L496.4 329.1M469.1 297.1L496.4 324.0M469.1 292.0L496.4 318.9M469.1 286.9L496.4 313.8M469.1 281.8L496.4 308.7M469.1 276.7L496.4 303.6M469.1 271.6L496.4 298.5M469.1 266.5L496.4 293.4M469.1 261.4L496.4 288.3M469.1 256.3L496.4 283.2M469.1 251.2L496.4 278.1M469.1 246.1L496.4 273.0M469.1 241.0L496.4 267.9M469.1 235.9L496.4 262.8M469.1 230.8L496.4 257.7M469.1 225.7L496.4 252.6M469.1 220.6L496.4 247.5M469.1 215.5L496.4 242.4M469.1 210.4L496.4 237.3M469.1 205.3L496.4 232.2M469.1 200.2L496.4 227.1M469.1 195.1L496.4 222.0M469.1 190.0L496.4 216.9M469.1 184.9L496.4 211.8M469.1 179.8L496.4 206.7M469.1 174.7L496.4 201.6M469.1 169.6L496.4 196.5M469.1 164.5L496.4 191.4M469.1 159.4L496.4 186.3M469.1 154.3L496.4 181.2M469.1 149.2L496.4 176.1M469.1 144.1L496.4 171.0M469.1 139.0L496.4 165.9M469.1 133.9L496.4 160.8M469.1 128.8L496.4 155.7M469.1 123.7L496.4 150.6M469.1 118.6L496.4 145.5M469.1 113.5L496.4 140.4M469.1 108.4L496.4 135.3M469.1 103.3L496.4 130.2M469.1 98.2L496.4 125.1M469.1 93.1L496.4 120.0M469.1 88.0L496.4 114.9M469.1 82.9L496.4 109.8M469.1 77.8L496.4 104.7M469.1 72.7L496.4 99.6M470.3 68.7L496.4 94.5M475.4 68.7L496.4 89.4M480.6 68.7L496.4 84.3M485.7 68.7L496.4 79.2M490.9 68.7L496.4 74.1M496.1 68.7L496.4 69.0M558.3 136.4L555.1 139.5M563.5 136.4L555.1 144.6M568.7 136.4L555.1 149.7M573.8 136.4L555.1 154.8M579.0 136.4L555.1 159.9M582.4 138.1L555.1 165.0M582.4 143.2L555.1 170.1M582.4 148.3L555.1 175.2M582.4 153.4L555.1 180.3M582.4 158.5L555.1 185.4M582.4 163.6L555.1 190.5M582.4 168.7L555.1 195.6M582.4 173.8L555.1 200.7M582.4 178.9L555.1 205.8M582.4 184.0L555.1 210.9M582.4 189.1L555.1 216.0M582.4 194.2L555.1 221.1M582.4 199.3L555.1 226.2M582.4 204.4L555.1 231.3M582.4 209.5L555.1 236.4M582.4 214.6L555.1 241.5M582.4 219.7L555.1 246.6M582.4 224.8L555.1 251.7M582.4 229.9L555.1 256.8M582.4 235.0L555.1 261.9M582.4 240.1L555.1 267.0M582.4 245.2L555.1 272.1M582.4 250.3L555.1 277.2M582.4 255.4L555.1 282.3M582.4 260.5L555.1 287.4M582.4 265.6L555.1 292.5M582.4 270.7L555.1 297.6M582.4 275.8L555.1 302.7M582.4 280.9L555.1 307.8M582.4 286.0L555.1 312.9M582.4 291.1L555.1 318.0M582.4 296.2L555.1 323.1M582.4 301.3L555.1 328.2M582.4 306.4L555.1 333.3M582.4 311.5L555.1 338.4M582.4 316.6L555.1 343.5M582.4 321.7L555.1 348.6M582.4 326.8L555.1 353.7M582.4 331.9L555.1 358.8M582.4 337.0L555.1 363.9M582.4 342.1L555.1 369.0M582.4 347.2L555.1 374.1M582.4 352.3L555.1 379.2M582.4 357.4L555.1 384.3M582.4 362.5L555.1 389.4M582.4 367.6L555.1 394.5M582.4 372.7L555.1 399.6M582.4 377.8L555.1 404.7M582.4 382.9L555.1 409.8M582.4 388.0L555.1 414.9M582.4 393.1L555.1 420.0M582.4 398.2L555.1 425.1M582.4 403.3L555.1 430.2M582.4 408.4L555.1 435.3M582.4 413.5L556.6 439.0M582.4 418.6L561.8 439.0M582.4 423.7L566.9 439.0M582.4 428.8L572.1 439.0M582.4 433.9L577.3 439.0M582.4 439.0L582.4 439.0M555.1 436.2L558.0 439.0M555.1 431.1L563.2 439.0M555.1 426.0L568.4 439.0M555.1 420.9L573.5 439.0M555.1 415.8L578.7 439.0M555.1 410.7L582.4 437.6M555.1 405.6L582.4 432.5M555.1 400.5L582.4 427.4M555.1 395.4L582.4 422.3M555.1 390.3L582.4 417.2M555.1 385.2L582.4 412.1M555.1 380.1L582.4 407.0M555.1 375.0L582.4 401.9M555.1 369.9L582.4 396.8M555.1 364.8L582.4 391.7M555.1 359.7L582.4 386.6M555.1 354.6L582.4 381.5M555.1 349.5L582.4 376.4M555.1 344.4L582.4 371.3M555.1 339.3L582.4 366.2M555.1 334.2L582.4 361.1M555.1 329.1L582.4 356.0M555.1 324.0L582.4 350.9M555.1 318.9L582.4 345.8M555.1 313.8L582.4 340.7M555.1 308.7L582.4 335.6M555.1 303.6L582.4 330.5M555.1 298.5L582.4 325.4M555.1 293.4L582.4 320.3M555.1 288.3L582.4 315.2M555.1 283.2L582.4 310.1M555.1 278.1L582.4 305.0M555.1 273.0L582.4 299.9M555.1 267.9L582.4 294.8M555.1 262.8L582.4 289.7M555.1 257.7L582.4 284.6M555.1 252.6L582.4 279.5M555.1 247.5L582.4 274.4M555.1 242.4L582.4 269.3M555.1 237.3L582.4 264.2M555.1 232.2L582.4 259.1M555.1 227.1L582.4 254.0M555.1 222.0L582.4 248.9M555.1 216.9L582.4 243.8M555.1 211.8L582.4 238.7M555.1 206.7L582.4 233.6M555.1 201.6L582.4 228.5M555.1 196.5L582.4 223.4M555.1 191.4L582.4 218.3M555.1 186.3L582.4 213.2M555.1 181.2L582.4 208.1M555.1 176.1L582.4 203.0M555.1 171.0L582.4 197.9M555.1 165.9L582.4 192.8M555.1 160.8L582.4 187.7M555.1 155.7L582.4 182.6M555.1 150.6L582.4 177.5M555.1 145.5L582.4 172.4M555.1 140.4L582.4 167.3M556.3 136.4L582.4 162.2M561.5 136.4L582.4 157.1M566.6 136.4L582.4 152.0M571.8 136.4L582.4 146.9M577.0 136.4L582.4 141.8M582.1 136.4L582.4 136.7M526.2 50.5L523.0 53.6M531.3 50.5L523.0 58.7M536.5 50.5L523.0 63.8M541.7 50.5L523.0 68.9M546.8 50.5L523.0 74.0M552.0 50.5L527.7 74.5M557.2 50.5L532.9 74.5M562.3 50.5L538.0 74.5M567.5 50.5L543.2 74.5M569.7 53.4L548.4 74.5M569.7 58.5L553.5 74.5M569.7 63.6L558.7 74.5M569.7 68.7L563.8 74.5M569.7 73.8L569.0 74.5M523.0 69.8L527.8 74.5M523.0 64.7L533.0 74.5M523.0 59.6L538.1 74.5M523.0 54.5L543.3 74.5M524.2 50.5L548.5 74.5M529.3 50.5L553.6 74.5M534.5 50.5L558.8 74.5M539.7 50.5L564.0 74.5M544.8 50.5L569.1 74.5M550.0 50.5L569.7 70.0M555.1 50.5L569.7 64.9M560.3 50.5L569.7 59.8M565.5 50.5L569.7 54.7" stroke="#000" stroke-width="1.2" fill="none"/>
<g stroke="#000" stroke-width="1.1" fill="none">
<rect x="80.95" y="128.40" width="23.30" height="308.60"/>
<rect x="167.01" y="105.20" width="23.30" height="331.80"/>
<rect x="253.07" y="201.80" width="23.30" height="235.20"/>
<rect x="339.13" y="191.10" width="23.30" height="245.90"/>
<rect x="425.19" y="169.20" width="23.30" height="267.80"/>
<rect x="511.25" y="193.50" width="23.30" height="243.50"/>
<rect x="103.85" y="122.60" width="23.30" height="314.40"/>
<rect x="189.91" y="170.10" width="23.30" height="266.90"/>
<rect x="275.97" y="189.30" width="23.30" height="247.70"/>
<rect x="362.03" y="119.40" width="23.30" height="317.60"/>
<rect x="448.09" y="123.10" width="23.30" height="313.90"/>
<rect x="534.15" y="187.30" width="23.30" height="249.70"/>
<rect x="126.85" y="120.20" width="23.30" height="316.80"/>
<rect x="212.91" y="116.60" width="23.30" height="320.40"/>
<rect x="298.97" y="116.40" width="23.30" height="320.60"/>
<rect x="385.03" y="104.80" width="23.30" height="332.20"/>
<rect x="471.09" y="70.70" width="23.30" height="366.30"/>
<rect x="557.15" y="138.40" width="23.30" height="298.60"/>
</g>
<g stroke="#000" stroke-width="1.2" fill="none">
<rect x="525.00" y="3.70" width="42.70" height="20.00"/>
<rect x="525.00" y="28.10" width="42.70" height="20.00"/>
<rect x="525.00" y="52.50" width="42.70" height="20.00"/>
</g>
<g stroke="#000" stroke-width="1.1" fill="none">
<path d="M92.60 124.20 V132.70 M88.30 124.20 H96.90 M88.30 132.70 H96.90"/>
<path d="M115.50 105.20 V140.30 M111.20 105.20 H119.80 M111.20 140.30 H119.80"/>
<path d="M138.50 112.00 V128.40 M134.20 112.00 H142.80 M134.20 128.40 H142.80"/>
<path d="M178.66 102.70 V108.30 M174.36 102.70 H182.96 M174.36 108.30 H182.96"/>
<path d="M201.56 154.80 V184.80 M197.26 154.80 H205.86 M197.26 184.80 H205.86"/>
<path d="M224.56 99.60 V132.80 M220.26 99.60 H228.86 M220.26 132.80 H228.86"/>
<path d="M264.72 191.60 V210.90 M260.42 191.60 H269.02 M260.42 210.90 H269.02"/>
<path d="M287.62 173.80 V205.10 M283.32 173.80 H291.92 M283.32 205.10 H291.92"/>
<path d="M310.62 113.30 V119.20 M306.32 113.30 H314.92 M306.32 119.20 H314.92"/>
<path d="M350.78 177.60 V204.30 M346.48 177.60 H355.08 M346.48 204.30 H355.08"/>
<path d="M373.68 108.40 V130.20 M369.38 108.40 H377.98 M369.38 130.20 H377.98"/>
<path d="M396.68 90.20 V119.40 M392.38 90.20 H400.98 M392.38 119.40 H400.98"/>
<path d="M436.84 164.50 V173.90 M432.54 164.50 H441.14 M432.54 173.90 H441.14"/>
<path d="M459.74 113.30 V133.20 M455.44 113.30 H464.04 M455.44 133.20 H464.04"/>
<path d="M482.74 55.20 V86.20 M478.44 55.20 H487.04 M478.44 86.20 H487.04"/>
<path d="M522.90 184.90 V201.60 M518.60 184.90 H527.20 M518.60 201.60 H527.20"/>
<path d="M545.80 180.30 V195.00 M541.50 180.30 H550.10 M541.50 195.00 H550.10"/>
<path d="M568.80 132.50 V144.30 M564.50 132.50 H573.10 M564.50 144.30 H573.10"/>
</g>
<g stroke="#000" stroke-width="1.6" fill="none">
<path d="M72.4 27.00 V437.80"/>
<path d="M71.60 437.0 H589.6"/>
<path d="M63.8 437.00 H72.4"/>
<path d="M63.8 368.80 H72.4"/>
<path d="M63.8 300.60 H72.4"/>
<path d="M63.8 232.40 H72.4"/>
<path d="M63.8 164.20 H72.4"/>
<path d="M63.8 96.00 H72.4"/>
<path d="M63.8 27.80 H72.4"/>
<path d="M68 402.90 H72.4"/>
<path d="M68 334.70 H72.4"/>
<path d="M68 266.50 H72.4"/>
<path d="M68 198.30 H72.4"/>
<path d="M68 130.10 H72.4"/>
<path d="M68 61.90 H72.4"/>
<path d="M72.70 437.0 V441.6"/>
<path d="M115.73 437.0 V445.4"/>
<path d="M158.76 437.0 V441.6"/>
<path d="M201.79 437.0 V445.4"/>
<path d="M244.82 437.0 V441.6"/>
<path d="M287.85 437.0 V445.4"/>
<path d="M330.88 437.0 V441.6"/>
<path d="M373.91 437.0 V445.4"/>
<path d="M416.94 437.0 V441.6"/>
<path d="M459.97 437.0 V445.4"/>
<path d="M503.00 437.0 V441.6"/>
<path d="M546.03 437.0 V445.4"/>
<path d="M589.06 437.0 V441.6"/>
</g>
<g opacity="0.999">
<text class="b" stroke="#000" stroke-width="0.3" transform="translate(58.80 440.70) scale(1.01 1)" font-size="15" text-anchor="end">0</text>
<text class="b" stroke="#000" stroke-width="0.3" transform="translate(58.80 372.50) scale(1.01 1)" font-size="15" text-anchor="end">50</text>
<text class="b" stroke="#000" stroke-width="0.3" transform="translate(58.80 304.30) scale(1.01 1)" font-size="15" text-anchor="end">100</text>
<text class="b" stroke="#000" stroke-width="0.3" transform="translate(58.80 236.10) scale(1.01 1)" font-size="15" text-anchor="end">150</text>
<text class="b" stroke="#000" stroke-width="0.3" transform="translate(58.80 167.90) scale(1.01 1)" font-size="15" text-anchor="end">200</text>
<text class="b" stroke="#000" stroke-width="0.3" transform="translate(58.80 99.70) scale(1.01 1)" font-size="15" text-anchor="end">250</text>
<text class="b" stroke="#000" stroke-width="0.3" transform="translate(58.80 31.50) scale(1.01 1)" font-size="15" text-anchor="end">300</text>
<text class="b" stroke="#000" stroke-width="0.3" transform="translate(115.40 464.40) scale(1.01 1)" font-size="15" text-anchor="middle">0</text>
<text class="b" stroke="#000" stroke-width="0.3" transform="translate(201.90 464.40) scale(1.01 1)" font-size="15" text-anchor="middle">15.62</text>
<text class="b" stroke="#000" stroke-width="0.3" transform="translate(289.50 464.40) scale(1.01 1)" font-size="15" text-anchor="middle">31.25</text>
<text class="b" stroke="#000" stroke-width="0.3" transform="translate(374.30 464.40) scale(1.01 1)" font-size="15" text-anchor="middle">62.5</text>
<text class="b" stroke="#000" stroke-width="0.3" transform="translate(460.60 464.40) scale(1.01 1)" font-size="15" text-anchor="middle">125</text>
<text class="b" stroke="#000" stroke-width="0.3" transform="translate(547.40 465.00) scale(1.01 1)" font-size="15" text-anchor="middle">250</text>
<text stroke="#000" stroke-width="0.3" transform="translate(90.80 118.90) scale(1.065 1)" font-size="15.4" text-anchor="middle">bc</text>
<text stroke="#000" stroke-width="0.3" transform="translate(113.70 100.90) scale(1.065 1)" font-size="15.4" text-anchor="middle">bc</text>
<text stroke="#000" stroke-width="0.3" transform="translate(139.70 108.50) scale(1.065 1)" font-size="15.4" text-anchor="middle">bc</text>
<text stroke="#000" stroke-width="0.3" transform="translate(177.20 98.30) scale(1.065 1)" font-size="15.4" text-anchor="middle">b</text>
<text stroke="#000" stroke-width="0.3" transform="translate(202.50 150.70) scale(1.065 1)" font-size="15.4" text-anchor="middle">de</text>
<text stroke="#000" stroke-width="0.3" transform="translate(224.00 95.50) scale(1.065 1)" font-size="15.4" text-anchor="middle">bc</text>
<text stroke="#000" stroke-width="0.3" transform="translate(264.70 184.80) scale(1.065 1)" font-size="15.4" text-anchor="middle">de</text>
<text stroke="#000" stroke-width="0.3" transform="translate(286.90 169.40) scale(1.065 1)" font-size="15.4" text-anchor="middle">d</text>
<text stroke="#000" stroke-width="0.3" transform="translate(310.40 108.30) scale(1.065 1)" font-size="15.4" text-anchor="middle">bc</text>
<text stroke="#000" stroke-width="0.3" transform="translate(350.00 174.50) scale(1.065 1)" font-size="15.4" text-anchor="middle">e</text>
<text stroke="#000" stroke-width="0.3" transform="translate(371.30 104.20) scale(1.065 1)" font-size="15.4" text-anchor="middle">bc</text>
<text stroke="#000" stroke-width="0.3" transform="translate(396.50 86.00) scale(1.065 1)" font-size="15.4" text-anchor="middle">b</text>
<text stroke="#000" stroke-width="0.3" transform="translate(438.50 160.10) scale(1.065 1)" font-size="15.4" text-anchor="middle">e</text>
<text stroke="#000" stroke-width="0.3" transform="translate(459.70 109.40) scale(1.065 1)" font-size="15.4" text-anchor="middle">bc</text>
<text stroke="#000" stroke-width="0.3" transform="translate(481.40 50.50) scale(1.065 1)" font-size="15.4" text-anchor="middle">a</text>
<text stroke="#000" stroke-width="0.3" transform="translate(522.30 181.40) scale(1.065 1)" font-size="15.4" text-anchor="middle">e</text>
<text stroke="#000" stroke-width="0.3" transform="translate(545.70 174.80) scale(1.065 1)" font-size="15.4" text-anchor="middle">e</text>
<text stroke="#000" stroke-width="0.3" transform="translate(568.30 127.60) scale(1.065 1)" font-size="15.4" text-anchor="middle">c</text>
<text class="b" stroke="#000" stroke-width="0.3" transform="translate(331.30 497.90) scale(0.997 1)" font-size="17.0" text-anchor="middle">Fe-ZnO-NPs concentrations (µg/mL)</text>
<text transform="translate(14.5 228.3) rotate(-90) scale(1.004 1)" font-size="19.7" text-anchor="middle" stroke="#000" stroke-width="0.4">Total Phenolic content (µg GAE/g of DW)</text>
<text stroke="#000" stroke-width="0.4" transform="translate(574.30 20.60) scale(1.0 1)" font-size="19.7" text-anchor="start">Day 10</text>
<text stroke="#000" stroke-width="0.4" transform="translate(574.30 45.00) scale(1.0 1)" font-size="19.7" text-anchor="start">Day 20</text>
<text stroke="#000" stroke-width="0.4" transform="translate(574.30 69.40) scale(1.0 1)" font-size="19.7" text-anchor="start">Day 40</text>
</g>
</g>
</svg>
</body></html>
